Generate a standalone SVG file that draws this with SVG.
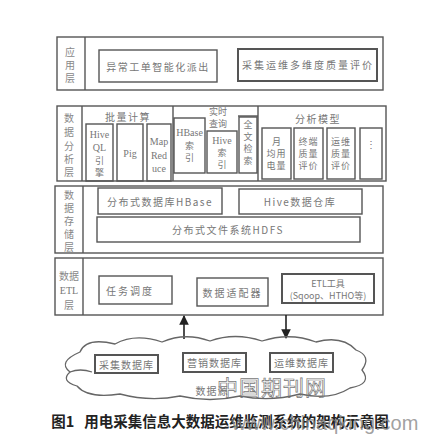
<svg xmlns="http://www.w3.org/2000/svg" width="439" height="442" viewBox="0 0 439 442">
<defs>
<style>
.o{fill:none;stroke:#555;stroke-width:1.4}
.b{fill:none;stroke:#555;stroke-width:1.4}
.d{fill:none;stroke:#555;stroke-width:2}
.t{font-family:"Noto Sans CJK SC","Liberation Sans",sans-serif;font-size:10px;fill:#777;text-anchor:middle;dominant-baseline:central}
.v{font-family:"Noto Sans CJK SC","Liberation Sans",sans-serif;font-size:9px;fill:#777;text-anchor:middle;dominant-baseline:central}
.s{font-family:"Liberation Serif","Noto Sans CJK SC",serif;font-size:10px;fill:#777;text-anchor:middle;dominant-baseline:central}
.l{font-family:"Noto Sans CJK SC",sans-serif;font-size:10px;fill:#888;text-anchor:middle;dominant-baseline:central}
.c{fill:none;stroke:#666;stroke-width:1.3}
</style>
<marker id="ah" viewBox="0 0 10 10" refX="9" refY="5" markerWidth="6" markerHeight="7" orient="auto">
<path d="M0 0L10 5L0 10Z" fill="#222"/>
</marker>
</defs>
<rect width="439" height="442" fill="#fff"/>

<g id="layer-app">
<rect class="o" x="57" y="37" width="326" height="53"/>
<line class="o" x1="85" y1="37" x2="85" y2="90"/>
<text class="l" x="70" y="51">应</text><text class="l" x="70" y="64">用</text><text class="l" x="70" y="77">层</text>
<g id="n-dispatch"><rect class="b" x="99" y="50" width="118" height="32"/><text class="t" x="158" y="66" letter-spacing="1.5">异常工单智能化派出</text></g>
<g id="n-eval"><rect class="d" x="238" y="49" width="139" height="32"/><text class="t" x="308" y="64" letter-spacing="2">采集运维多维度质量评价</text></g>
</g>

<g id="layer-analysis">
<rect class="o" x="57" y="106" width="329" height="75"/>
<line class="o" x1="82" y1="106" x2="82" y2="181"/>
<line class="o" x1="173" y1="106" x2="173" y2="181"/>
<line class="o" x1="258" y1="106" x2="258" y2="181"/>
<line class="o" x1="238" y1="116" x2="258" y2="116"/>
<text class="l" x="69" y="117">数</text><text class="l" x="69" y="131">据</text><text class="l" x="69" y="145">分</text><text class="l" x="69" y="158">析</text><text class="l" x="69" y="171">层</text>
<text class="t" x="128" y="116" letter-spacing="1.5">批量计算</text>
<g id="n-hiveql"><rect class="b" x="86" y="124" width="27" height="57"/><text class="s" x="99.5" y="134">Hive</text><text class="s" x="99.5" y="147">QL</text><text class="v" x="99.5" y="160">引</text><text class="v" x="99.5" y="172">擎</text></g>
<g id="n-pig"><rect class="b" x="117" y="124" width="26" height="57"/><text class="s" x="130" y="153">Pig</text></g>
<g id="n-mr"><rect class="b" x="147" y="124" width="24" height="57"/><text class="s" x="159" y="141">Map</text><text class="s" x="159" y="155">Red</text><text class="s" x="159" y="168">uce</text></g>
<text class="v" x="218" y="111">实时</text><text class="v" x="218" y="123">查询</text>
<g id="n-hbaseidx"><rect class="b" x="174" y="118" width="31" height="55"/><text class="s" x="189.5" y="132">HBase</text><text class="v" x="189.5" y="145">索</text><text class="v" x="189.5" y="157">引</text></g>
<g id="n-hiveidx"><rect class="b" x="207" y="131" width="30" height="42"/><text class="s" x="222" y="140">Hive</text><text class="v" x="222" y="152">索</text><text class="v" x="222" y="164">引</text></g>
<g id="n-fulltext"><rect class="b" x="239" y="117" width="18" height="56"/><text class="v" x="248" y="124">全</text><text class="v" x="248" y="136">文</text><text class="v" x="248" y="148">检</text><text class="v" x="248" y="160">索</text></g>
<text class="t" x="318" y="118" letter-spacing="1.5">分析模型</text>
<g id="n-month"><rect class="b" x="262" y="128" width="29" height="51"/><text class="v" x="276.5" y="141">月</text><text class="v" x="276.5" y="153" letter-spacing="1">均用</text><text class="v" x="276.5" y="165" letter-spacing="1">电量</text></g>
<g id="n-term"><rect class="b" x="294" y="128" width="29" height="51"/><text class="v" x="308.5" y="141" letter-spacing="1">终端</text><text class="v" x="308.5" y="153" letter-spacing="1">质量</text><text class="v" x="308.5" y="165" letter-spacing="1">评价</text></g>
<g id="n-ops"><rect class="b" x="327" y="128" width="28" height="51"/><text class="v" x="341" y="141" letter-spacing="1">运维</text><text class="v" x="341" y="153" letter-spacing="1">质量</text><text class="v" x="341" y="165" letter-spacing="1">评价</text></g>
<g id="n-more"><rect class="b" x="360" y="128" width="22" height="51"/><text class="t" x="371" y="143">⋮</text></g>
</g>

<g id="layer-storage">
<rect class="o" x="55" y="186" width="328" height="67"/>
<line class="o" x1="83" y1="186" x2="83" y2="253"/>
<text class="l" x="69" y="194">数</text><text class="l" x="69" y="207">据</text><text class="l" x="69" y="220">存</text><text class="l" x="69" y="233">储</text><text class="l" x="69" y="246">层</text>
<g id="n-hbase"><rect class="b" x="98" y="188" width="124" height="26"/><text class="t" x="160" y="201" letter-spacing="1.5">分布式数据库HBase</text></g>
<g id="n-hive"><rect class="b" x="239" y="189" width="123" height="25"/><text class="t" x="300" y="201" letter-spacing="1.5">Hive数据仓库</text></g>
<g id="n-hdfs"><rect class="b" x="97" y="217" width="263" height="25"/><text class="t" x="228" y="229" letter-spacing="1.5">分布式文件系统HDFS</text></g>
</g>

<g id="layer-etl">
<rect class="o" x="55" y="258" width="328" height="57"/>
<line class="o" x1="83" y1="258" x2="83" y2="315"/>
<text class="l" x="69" y="275">数据</text><text class="s" x="69" y="290">ETL</text><text class="l" x="69" y="304">层</text>
<g id="n-sched"><rect class="b" x="99" y="276" width="73" height="28"/><text class="t" x="130" y="290" letter-spacing="2">任务调度</text></g>
<g id="n-adapter"><rect class="b" x="197" y="278" width="71" height="28"/><text class="t" x="232.5" y="292" letter-spacing="2">数据适配器</text></g>
<g id="n-etltool"><rect class="d" x="282" y="274" width="92" height="29"/><text class="v" x="328" y="283">ETL工具</text><text class="v" x="328" y="295">(Sqoop、HTHO等)</text></g>
</g>

<g id="connectors">
<line x1="184" y1="339" x2="184" y2="316" stroke="#222" stroke-width="1.6" marker-end="url(#ah)"/>
<line x1="286" y1="315" x2="286" y2="338" stroke="#222" stroke-width="1.6" marker-end="url(#ah)"/>
</g>

<g id="datasource">
<path class="c" d="M80 352Q86 337 115 344Q135 333 162 342Q185 332 210 341Q235 332 262 341Q290 332 316 342Q342 335 356 350Q372 356 362 370Q373 384 350 388Q330 401 300 394Q270 402 240 396Q210 403 180 396Q150 402 120 394Q88 399 77 386Q60 381 70 372Q57 362 80 352Z"/>
<path class="c" d="M70 372Q80 368 92 372"/>
<g id="n-collect"><rect class="d" x="95" y="355" width="63" height="18"/><text class="t" x="126.5" y="364" letter-spacing="1">采集数据库</text></g>
<g id="n-market"><rect class="d" x="183" y="353" width="63" height="19"/><text class="t" x="214.5" y="362" letter-spacing="1">营销数据库</text></g>
<g id="n-opsdb"><rect class="d" x="270" y="353" width="63" height="19"/><text class="t" x="301.5" y="362" letter-spacing="1">运维数据库</text></g>
<text class="t" x="212" y="390" letter-spacing="1">数据源</text>
</g>

<text x="272" y="386" font-family="Noto Sans CJK SC,sans-serif" font-size="21" fill="none" stroke="#777" stroke-width="0.7" text-anchor="middle" dominant-baseline="central" letter-spacing="1">中国期刊网</text>
<text x="220" y="420" font-family="Noto Sans CJK SC,sans-serif" font-size="14.5" font-weight="bold" fill="#222" text-anchor="middle" dominant-baseline="central" xml:space="preserve">图1   用电采集信息大数据运维监测系统的架构示意图</text>
<text x="325" y="423" font-family="Liberation Sans,sans-serif" font-size="20" fill="#888" fill-opacity="0.8" text-anchor="middle" dominant-baseline="central">www.chinaqking.com</text>
</svg>
